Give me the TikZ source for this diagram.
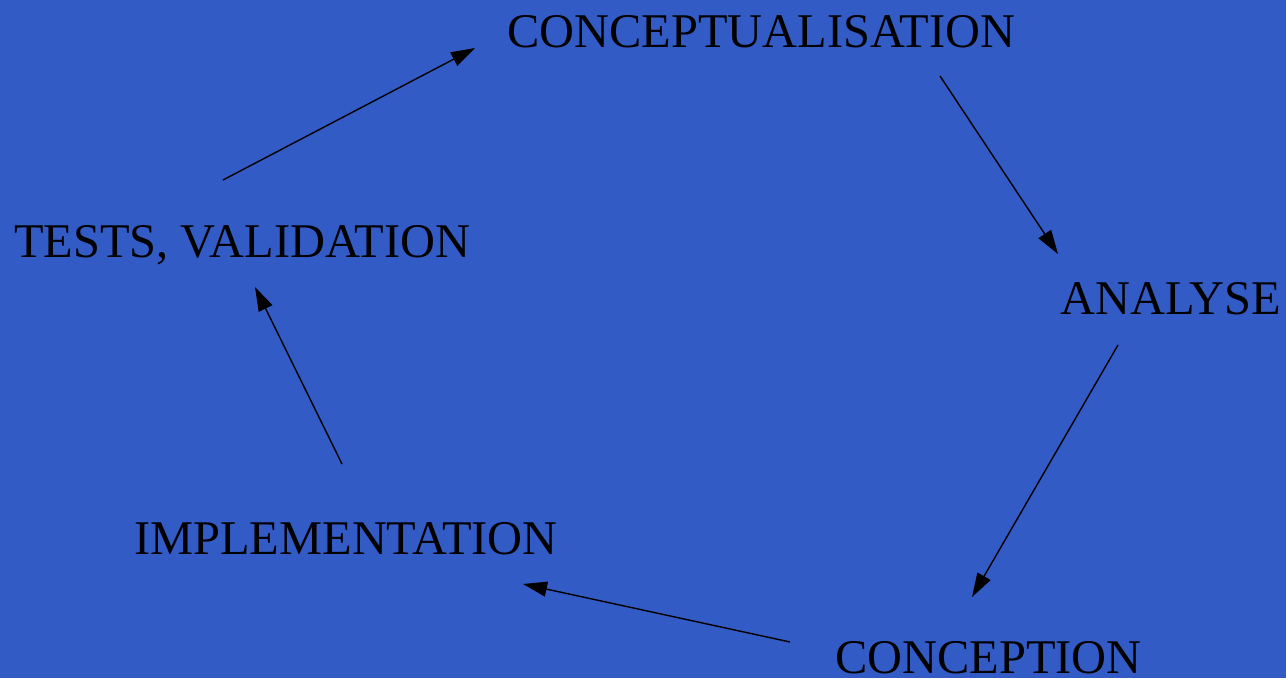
\documentclass[tikz,border=0pt]{standalone}
\usepackage{fontspec}
\setmainfont{Liberation Serif}
\usepackage{xcolor}
\usetikzlibrary{arrows.meta,calc}
\definecolor{bgblue}{RGB}{51,91,197}
\tikzset{
  phase/.style={inner sep=0pt, anchor=base west, text=black,
    font=\fontsize{48.4}{50}\selectfont},
  flow/.style={-{Triangle[length=24pt, width=15pt]}, line width=1.4pt, black}
}

\begin{document}
\begin{tikzpicture}[x=1pt, y=-1pt]
  % background
  \fill[bgblue] (0,0) rectangle (1286,678);
  \useasboundingbox (0,0) rectangle (1286,678);

  % phases of the cycle
  \node[phase] (concept) at (507,47) {CONCEPTUALISATION};
  \node[phase] (analyse) at (1060,314) {ANALYSE};
  \node[phase] (conception) at (835,673) {CONCEPTION};
  \node[phase] (impl) at (134,554) {IMPLEMENTATION};
  \node[phase] (tests) at (14,257) {TESTS, VALIDATION};

  % cycle arrows
  \draw[flow] ($(tests.base west)+(209,-77)$) -- ($(concept.base west)+(-32,1)$);
  \draw[flow] ($(concept.base west)+(433,29)$) -- ($(analyse.base west)+(-2,-60)$);
  \draw[flow] ($(analyse.base west)+(58,31)$) -- ($(conception.base west)+(137,-76)$);
  \draw[flow] ($(conception.base west)+(-45,-31)$) -- ($(impl.base west)+(389,30)$);
  \draw[flow] ($(impl.base west)+(208,-90)$) -- ($(tests.base west)+(241,30)$);
\end{tikzpicture}
\end{document}
